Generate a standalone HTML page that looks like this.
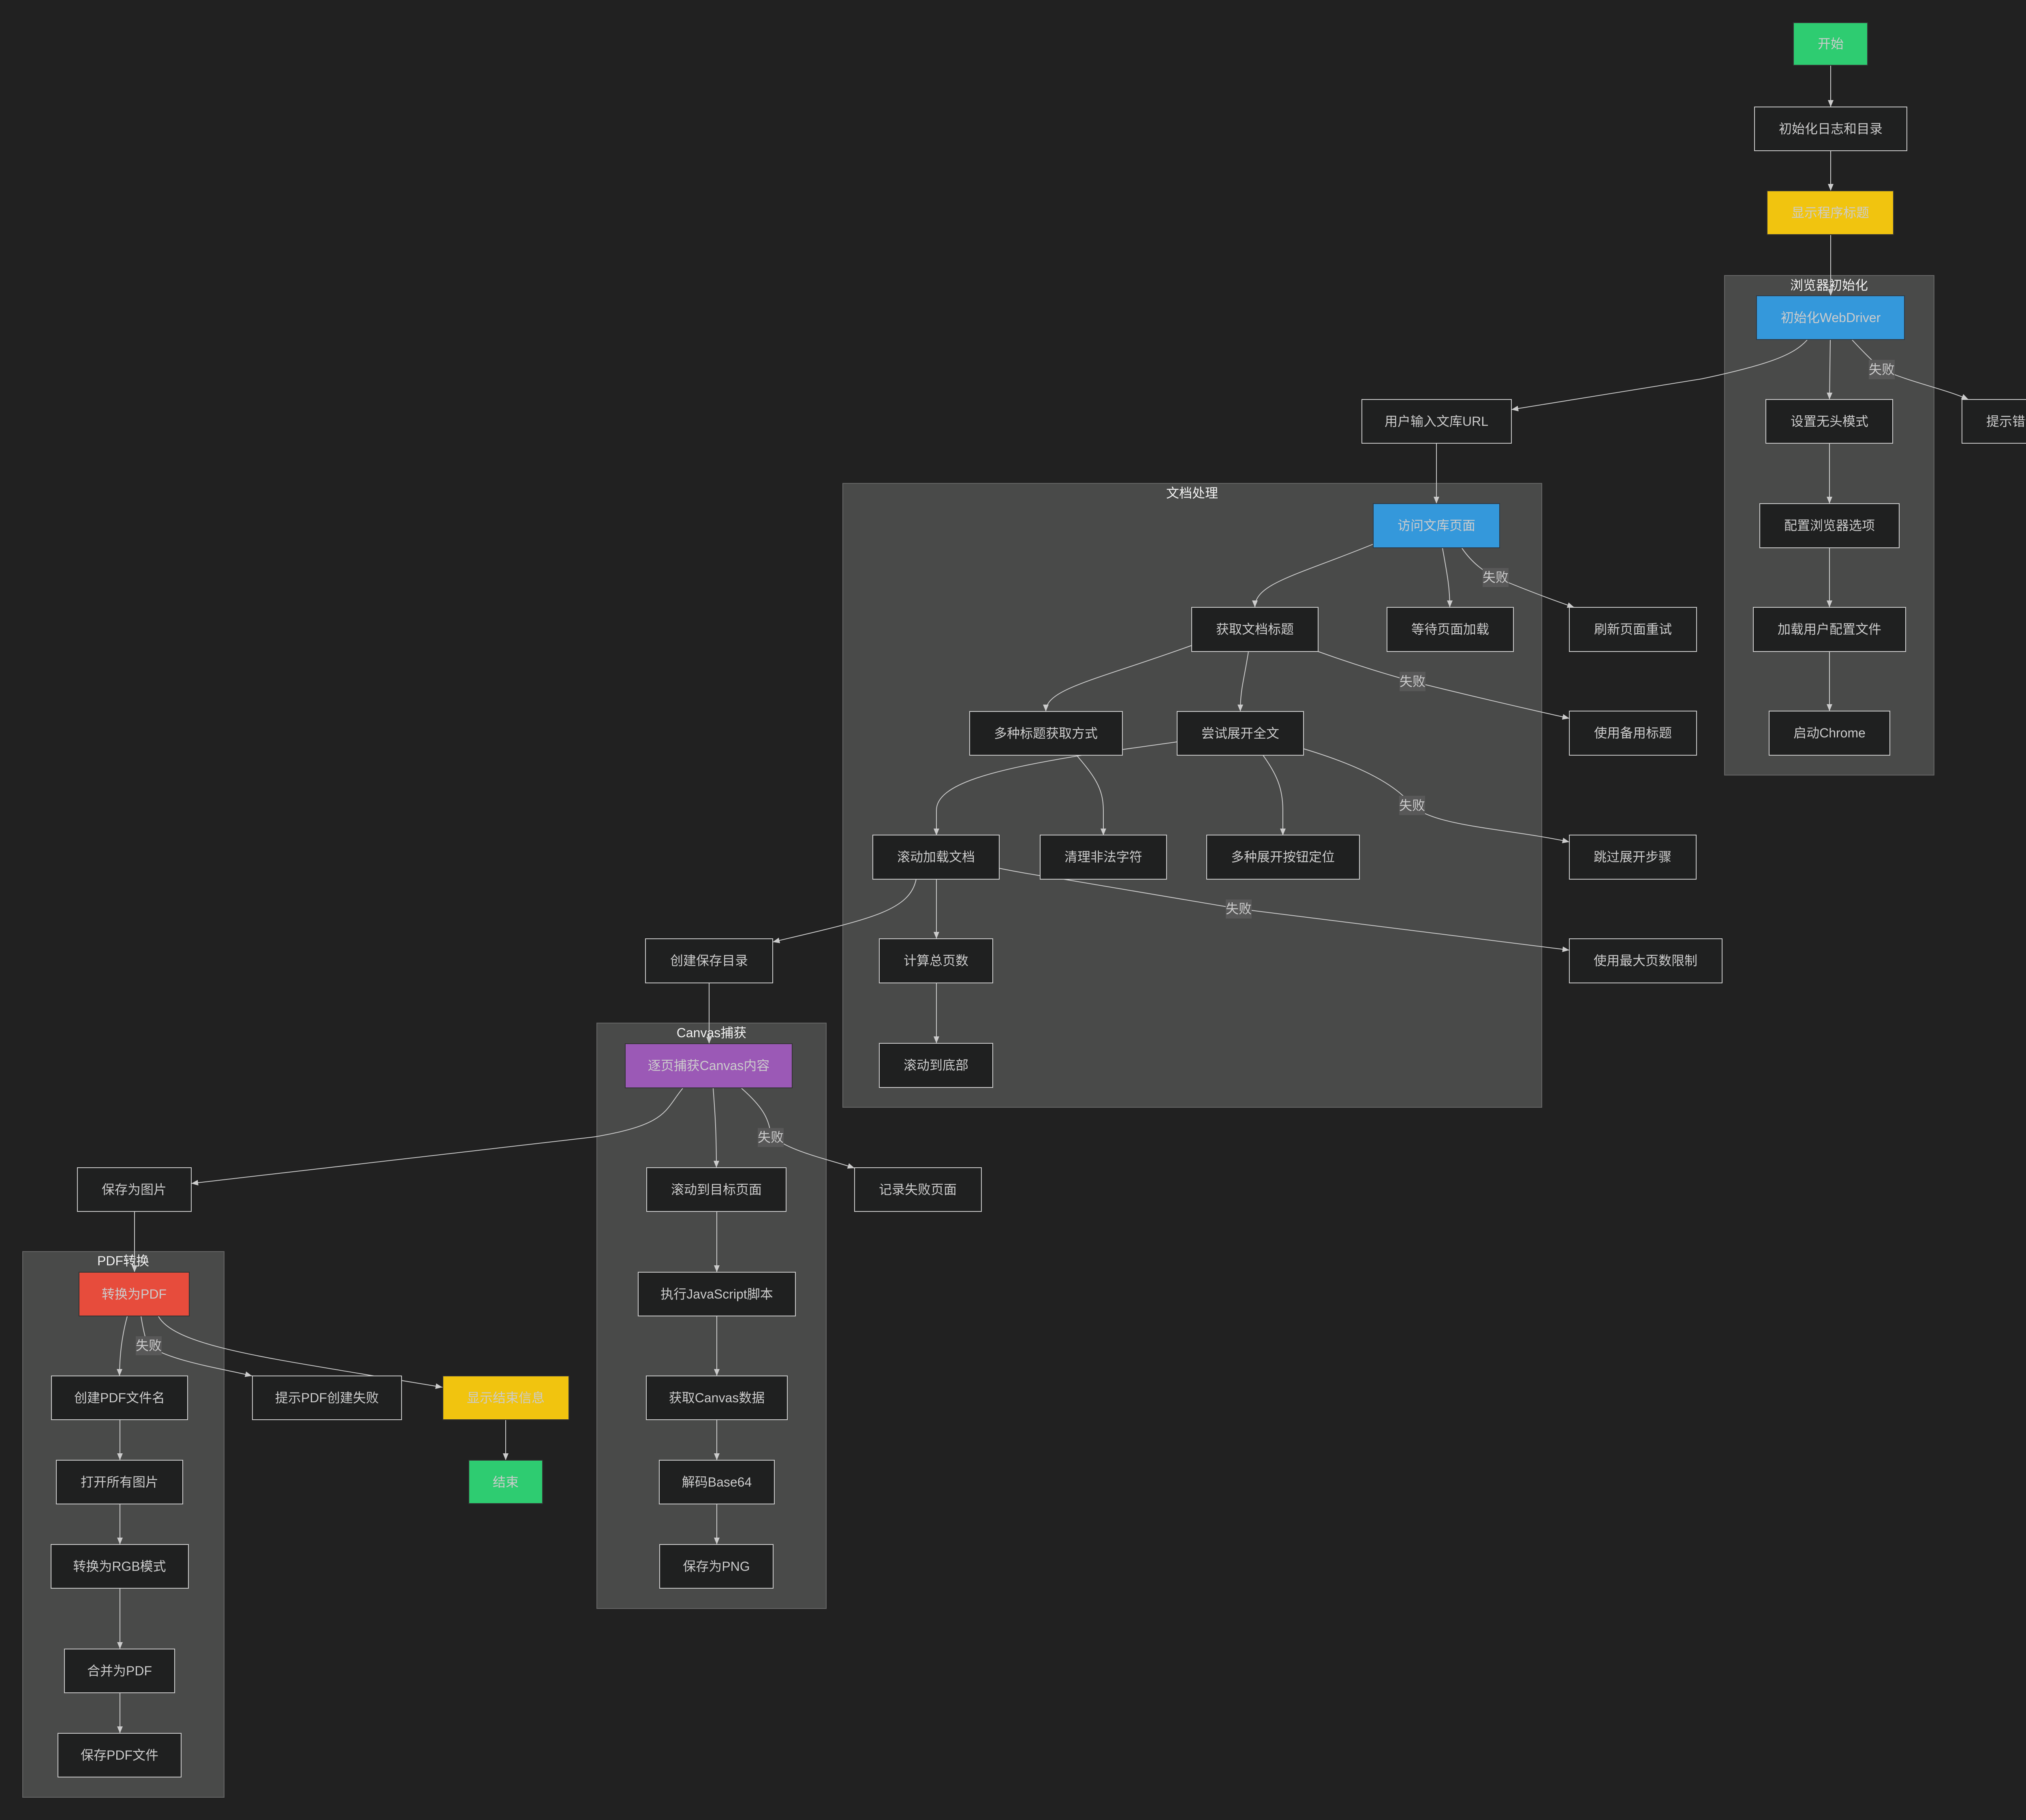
<!DOCTYPE html>
<html>
<head>
<meta charset="utf-8">
<style>
html{margin:0;padding:0;background:#212121;width:5242px;height:4492px;overflow:hidden;}
body{margin:0;padding:0;background:#212121;width:5242px;height:4492px;overflow:hidden;}
svg{display:block;}
.cl{fill:#494a49;stroke:#666666;stroke-width:2;}
.ct{fill:#f2f2f2;font-size:32px;text-anchor:middle;dominant-baseline:central;}
.n{fill:#1f2020;stroke:#cccccc;stroke-width:2;}
.t{fill:#cccccc;font-size:32px;text-anchor:middle;dominant-baseline:central;}
.e{fill:none;stroke:#cccccc;stroke-width:2;}
.lb{fill:#585858;}
text{font-family:"Liberation Sans","Noto Sans CJK SC",sans-serif;}
</style>
</head>
<body>
<svg width="5242" height="4492" viewBox="0 0 5242 4492" xmlns="http://www.w3.org/2000/svg">
<defs>
<marker id="a" markerUnits="userSpaceOnUse" markerWidth="18" markerHeight="16" refX="17" refY="8" orient="auto">
<path d="M0,1 L17,8 L0,15 z" fill="#cccccc"/>
</marker>
</defs>
<rect width="5242" height="4492" fill="#212121"/>

<!-- clusters -->
<rect class="cl" x="4256" y="680" width="517" height="1233"/>
<text class="ct" x="4514" y="704">浏览器初始化</text>
<rect class="cl" x="2080" y="1193" width="1725" height="1540"/>
<text class="ct" x="2942" y="1217">文档处理</text>
<rect class="cl" x="1473" y="2525" width="566" height="1445"/>
<text class="ct" x="1756" y="2549">Canvas捕获</text>
<rect class="cl" x="56" y="3089" width="497" height="1347"/>
<text class="ct" x="304" y="3112">PDF转换</text>

<!-- edges -->
<g class="e" marker-end="url(#a)">
<path d="M4518,161 L4518,264"/>
<path d="M4518,372 L4518,471"/>
<path d="M4518,579 L4518,730"/>
<path d="M4460,839 C4430,872 4380,897 4200,935 L3730,1011"/>
<path d="M4517,839 L4515,986"/>
<path d="M4571,839 C4595,865 4612,882 4644,912 C4720,945 4800,960 4858,986"/>
<path d="M4515,1094 L4515,1243"/>
<path d="M4515,1352 L4515,1499"/>
<path d="M4515,1608 L4515,1755"/>
<path d="M3545,1094 L3545,1243"/>
<path d="M3389,1343 C3200,1420 3097,1440 3097,1499"/>
<path d="M3560,1353 C3572,1420 3578,1450 3578,1499"/>
<path d="M3608,1353 Q3640,1400 3691,1425 Q3800,1470 3885,1499"/>
<path d="M2941,1593 C2700,1680 2581,1700 2581,1756"/>
<path d="M3081,1608 C3070,1680 3061,1700 3061,1756"/>
<path d="M3253,1608 Q3370,1650 3486,1682 Q3680,1730 3873,1773"/>
<path d="M2905,1831 L2670,1864 C2450,1900 2311,1935 2311,2000 L2311,2062"/>
<path d="M2657,1864 C2700,1915 2723,1945 2723,2000 L2723,2062"/>
<path d="M3117,1864 C3150,1910 3166,1945 3166,2000 L3166,2062"/>
<path d="M3217,1848 C3340,1885 3440,1930 3485,1988 C3540,2040 3720,2045 3873,2078"/>
<path d="M2261,2170 C2245,2250 2140,2270 1907,2325"/>
<path d="M2311,2170 L2311,2317"/>
<path d="M2466,2143 Q2540,2158 2625,2170 L3057,2243 L3873,2345"/>
<path d="M2311,2426 L2311,2575"/>
<path d="M1750,2426 L1750,2576"/>
<path d="M1685,2686 C1640,2740 1650,2775 1467,2806 L472,2921"/>
<path d="M1760,2686 C1765,2750 1768,2800 1768,2882"/>
<path d="M1830,2686 C1880,2730 1898,2760 1902,2800 C1940,2840 2040,2860 2109,2883"/>
<path d="M1769,2990 L1769,3140"/>
<path d="M1769,3248 L1769,3396"/>
<path d="M1769,3504 L1769,3604"/>
<path d="M1769,3712 L1769,3812"/>
<path d="M332,2990 L332,3140"/>
<path d="M314,3249 C300,3300 295,3350 295,3396"/>
<path d="M348,3249 C355,3290 360,3310 367,3321 C420,3360 560,3380 622,3396"/>
<path d="M391,3249 C430,3320 650,3350 917,3395 L1092,3424"/>
<path d="M1248,3504 L1248,3604"/>
<path d="M296,3504 L296,3604"/>
<path d="M296,3712 L296,3812"/>
<path d="M296,3920 L296,4070"/>
<path d="M296,4178 L296,4278"/>
</g>

<!-- nodes -->
<g>
<rect x="4426" y="56" width="183" height="105" fill="#2ecc71" stroke="#333" stroke-width="2"/>
<text class="t" x="4518" y="108">开始</text>
<rect class="n" x="4330" y="264" width="376" height="108"/>
<text class="t" x="4518" y="318">初始化日志和目录</text>
<rect x="4361" y="471" width="312" height="108" fill="#f1c40f" stroke="#333" stroke-width="2"/>
<text class="t" x="4517" y="525">显示程序标题</text>
<rect x="4335" y="730" width="365" height="108" fill="#3498db" stroke="#2d3a46" stroke-width="2"/>
<text class="t" x="4518" y="784">初始化WebDriver</text>
<rect class="n" x="4358" y="986" width="313" height="108"/>
<text class="t" x="4515" y="1040">设置无头模式</text>
<rect class="n" x="4842" y="986" width="344" height="108"/>
<text class="t" x="5014" y="1040">提示错误并退出</text>
<rect class="n" x="3361" y="986" width="369" height="108"/>
<text class="t" x="3545" y="1040">用户输入文库URL</text>
<rect class="n" x="4343" y="1243" width="344" height="109"/>
<text class="t" x="4515" y="1297">配置浏览器选项</text>
<rect class="n" x="4327" y="1499" width="376" height="109"/>
<text class="t" x="4515" y="1553">加载用户配置文件</text>
<rect class="n" x="4366" y="1755" width="298" height="109"/>
<text class="t" x="4515" y="1809">启动Chrome</text>
<rect x="3389" y="1243" width="312" height="109" fill="#3498db" stroke="#2d3a46" stroke-width="2"/>
<text class="t" x="3545" y="1297">访问文库页面</text>
<rect class="n" x="2941" y="1499" width="312" height="109"/>
<text class="t" x="3097" y="1553">获取文档标题</text>
<rect class="n" x="3423" y="1499" width="312" height="109"/>
<text class="t" x="3579" y="1553">等待页面加载</text>
<rect class="n" x="3873" y="1499" width="314" height="109"/>
<text class="t" x="4030" y="1553">刷新页面重试</text>
<rect class="n" x="2393" y="1756" width="377" height="108"/>
<text class="t" x="2581" y="1810">多种标题获取方式</text>
<rect class="n" x="2905" y="1756" width="312" height="108"/>
<text class="t" x="3061" y="1810">尝试展开全文</text>
<rect class="n" x="3873" y="1755" width="314" height="109"/>
<text class="t" x="4030" y="1809">使用备用标题</text>
<rect class="n" x="2154" y="2061" width="312" height="109"/>
<text class="t" x="2310" y="2115">滚动加载文档</text>
<rect class="n" x="2567" y="2061" width="312" height="109"/>
<text class="t" x="2723" y="2115">清理非法字符</text>
<rect class="n" x="2978" y="2061" width="377" height="109"/>
<text class="t" x="3166" y="2115">多种展开按钮定位</text>
<rect class="n" x="3873" y="2061" width="313" height="109"/>
<text class="t" x="4029" y="2115">跳过展开步骤</text>
<rect class="n" x="1593" y="2317" width="314" height="109"/>
<text class="t" x="1750" y="2371">创建保存目录</text>
<rect class="n" x="2170" y="2317" width="280" height="109"/>
<text class="t" x="2310" y="2371">计算总页数</text>
<rect class="n" x="3873" y="2317" width="377" height="109"/>
<text class="t" x="4061" y="2371">使用最大页数限制</text>
<rect class="n" x="2170" y="2575" width="280" height="109"/>
<text class="t" x="2310" y="2629">滚动到底部</text>
<rect x="1543" y="2576" width="412" height="109" fill="#9b59b6" stroke="#333" stroke-width="2"/>
<text class="t" x="1749" y="2630">逐页捕获Canvas内容</text>
<rect class="n" x="191" y="2882" width="281" height="108"/>
<text class="t" x="331" y="2936">保存为图片</text>
<rect class="n" x="1596" y="2882" width="344" height="108"/>
<text class="t" x="1768" y="2936">滚动到目标页面</text>
<rect class="n" x="2109" y="2882" width="313" height="108"/>
<text class="t" x="2265" y="2936">记录失败页面</text>
<rect x="195" y="3140" width="272" height="108" fill="#e74c3c" stroke="#333" stroke-width="2"/>
<text class="t" x="331" y="3194">转换为PDF</text>
<rect class="n" x="1575" y="3140" width="388" height="108"/>
<text class="t" x="1769" y="3194">执行JavaScript脚本</text>
<rect class="n" x="127" y="3396" width="336" height="108"/>
<text class="t" x="295" y="3450">创建PDF文件名</text>
<rect class="n" x="623" y="3396" width="368" height="108"/>
<text class="t" x="807" y="3450">提示PDF创建失败</text>
<rect x="1093" y="3396" width="311" height="108" fill="#f1c40f" stroke="#333" stroke-width="2"/>
<text class="t" x="1248" y="3450">显示结束信息</text>
<rect class="n" x="1595" y="3396" width="348" height="108"/>
<text class="t" x="1769" y="3450">获取Canvas数据</text>
<rect class="n" x="139" y="3604" width="312" height="108"/>
<text class="t" x="295" y="3658">打开所有图片</text>
<rect x="1157" y="3604" width="182" height="107" fill="#2ecc71" stroke="#333" stroke-width="2"/>
<text class="t" x="1248" y="3658">结束</text>
<rect class="n" x="1627" y="3604" width="284" height="108"/>
<text class="t" x="1769" y="3658">解码Base64</text>
<rect class="n" x="126" y="3812" width="339" height="108"/>
<text class="t" x="295" y="3866">转换为RGB模式</text>
<rect class="n" x="1628" y="3812" width="280" height="108"/>
<text class="t" x="1768" y="3866">保存为PNG</text>
<rect class="n" x="159" y="4070" width="272" height="108"/>
<text class="t" x="295" y="4124">合并为PDF</text>
<rect class="n" x="143" y="4278" width="304" height="108"/>
<text class="t" x="295" y="4332">保存PDF文件</text>
</g>

<!-- edge labels -->
<g>
<rect class="lb" x="4612" y="888" width="64" height="48"/>
<text class="t" x="4644" y="912">失败</text>
<rect class="lb" x="3659" y="1402" width="64" height="47"/>
<text class="t" x="3691" y="1425">失败</text>
<rect class="lb" x="3454" y="1658" width="64" height="48"/>
<text class="t" x="3486" y="1682">失败</text>
<rect class="lb" x="3453" y="1964" width="64" height="48"/>
<text class="t" x="3485" y="1988">失败</text>
<rect class="lb" x="3025" y="2220" width="64" height="47"/>
<text class="t" x="3057" y="2243">失败</text>
<rect class="lb" x="1870" y="2784" width="64" height="47"/>
<text class="t" x="1902" y="2807">失败</text>
<rect class="lb" x="335" y="3298" width="64" height="47"/>
<text class="t" x="367" y="3321">失败</text>
</g>
</svg>
</body>
</html>
